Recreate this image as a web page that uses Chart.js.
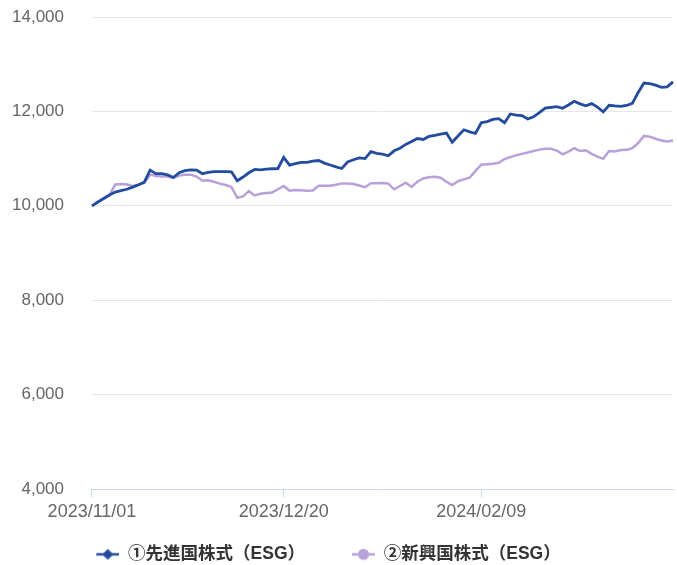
<!DOCTYPE html>
<html>
<head>
<meta charset="utf-8">
<script src="https://cdn.jsdelivr.net/npm/chart.js@4.4.1/dist/chart.umd.min.js"></script>
<style>
  body { margin: 0; background: #fff; }
  #wrap { width: 677px; height: 565px; }
</style>
</head>
<body>
<div id="wrap"><canvas id="fundChart" width="677" height="565"></canvas></div>
<script>
// trading days, 2023/11/01 - 2024/04/01
const dates = [
  '2023/11/01','2023/11/02','2023/11/06','2023/11/07','2023/11/08','2023/11/09','2023/11/10',
  '2023/11/13','2023/11/14','2023/11/15','2023/11/16','2023/11/17',
  '2023/11/20','2023/11/21','2023/11/22','2023/11/24',
  '2023/11/27','2023/11/28','2023/11/29','2023/11/30','2023/12/01',
  '2023/12/04','2023/12/05','2023/12/06','2023/12/07','2023/12/08',
  '2023/12/11','2023/12/12','2023/12/13','2023/12/14','2023/12/15',
  '2023/12/18','2023/12/19','2023/12/20','2023/12/21','2023/12/22',
  '2023/12/25','2023/12/26','2023/12/27','2023/12/28','2023/12/29',
  '2024/01/04','2024/01/05',
  '2024/01/08','2024/01/09','2024/01/10','2024/01/11','2024/01/12',
  '2024/01/15','2024/01/16','2024/01/17','2024/01/18','2024/01/19',
  '2024/01/22','2024/01/23','2024/01/24','2024/01/25','2024/01/26',
  '2024/01/29','2024/01/30','2024/01/31','2024/02/01','2024/02/02',
  '2024/02/05','2024/02/06','2024/02/07','2024/02/08','2024/02/09',
  '2024/02/13','2024/02/14','2024/02/15','2024/02/16',
  '2024/02/19','2024/02/20','2024/02/21','2024/02/22',
  '2024/02/26','2024/02/27','2024/02/28','2024/02/29','2024/03/01',
  '2024/03/04','2024/03/05','2024/03/06','2024/03/07','2024/03/08',
  '2024/03/11','2024/03/12','2024/03/13','2024/03/14','2024/03/15',
  '2024/03/18','2024/03/19','2024/03/21','2024/03/22',
  '2024/03/25','2024/03/26','2024/03/27','2024/03/28','2024/03/29',
  '2024/04/01'
];

const developedEsg = [
  10000, 10080, 10155, 10230, 10290, 10320, 10350, 10395, 10445, 10500,
  10755, 10680, 10680, 10655, 10600, 10700, 10745, 10760, 10755, 10680,
  10710, 10725, 10725, 10725, 10720, 10530, 10610, 10700, 10770, 10760,
  10775, 10785, 10790, 11025, 10860, 10895, 10920, 10920, 10945, 10960,
  10905, 10865, 10825, 10790, 10930, 10975, 11015, 11000, 11150, 11110,
  11095, 11060, 11165, 11220, 11300, 11360, 11425, 11405, 11470, 11490,
  11520, 11540, 11345, 11480, 11610, 11565, 11535, 11760, 11785, 11830,
  11845, 11760, 11945, 11920, 11910, 11840, 11885, 11975, 12070, 12085,
  12100, 12065, 12135, 12215, 12160, 12120, 12165, 12090, 11990, 12130,
  12115, 12105, 12125, 12170, 12400, 12600, 12590, 12555, 12510, 12520,
  12625
];

const emergingEsg = [
  10000, 10070, 10150, 10220, 10450, 10460, 10450, 10420, 10440, 10490,
  10660, 10630, 10620, 10620, 10590, 10640, 10660, 10660, 10620, 10530,
  10540, 10510, 10470, 10440, 10400, 10170, 10200, 10310, 10220, 10255,
  10270, 10280, 10350, 10420, 10320, 10335, 10330, 10320, 10325, 10425,
  10425, 10425, 10445, 10475, 10475, 10460, 10430, 10395, 10480, 10480,
  10485, 10470, 10350, 10420, 10490, 10400, 10510, 10580, 10605, 10615,
  10595, 10510, 10440, 10520, 10560, 10595, 10740, 10870, 10880, 10890,
  10910, 10990, 11030, 11070, 11100, 11130, 11160, 11190, 11210, 11210,
  11170, 11090, 11145, 11220, 11160, 11175, 11100, 11040, 10995, 11160,
  11150, 11180, 11185, 11220, 11330, 11480, 11465, 11420, 11385, 11365,
  11385
];

const seriesNames = ['①先進国株式（ESG）', '②新興国株式（ESG）'];
const shownDates = ['2023/11/01', '2023/12/20', '2024/02/09'];
const yTicks = [4000, 6000, 8000, 10000, 12000, 14000];

const BLUE = '#234c9e';
const LAVENDER = '#b7a1d8';
const FAMILY = "'Liberation Sans', Arial, sans-serif";

// legend marker: line with a symbol, drawn at the right end of a wide box
function legendMarker(color, shape) {
  const c = document.createElement('canvas');
  c.width = 64;
  c.height = 14;
  const g = c.getContext('2d');
  g.strokeStyle = color;
  g.fillStyle = color;
  g.lineWidth = 2.5;
  g.beginPath();
  g.moveTo(41, 7);
  g.lineTo(64, 7);
  g.stroke();
  g.beginPath();
  if (shape === 'diamond') {
    g.moveTo(52.5, 1.5); g.lineTo(58, 7); g.lineTo(52.5, 12.5); g.lineTo(47, 7);
    g.closePath();
  } else {
    g.arc(52.5, 7, 5.5, 0, Math.PI * 2);
  }
  g.fill();
  return c;
}

// move the legend box to where the reference has it
const legendNudge = {
  id: 'legendNudge',
  afterLayout(chart) {
    const lg = chart.legend;
    lg.left -= 34.5; lg.right -= 34.5;
    lg.top += 13; lg.bottom += 13;
  }
};

const ctx = document.getElementById('fundChart').getContext('2d');
new Chart(ctx, {
  type: 'line',
  data: {
    labels: dates,
    datasets: [{
      label: seriesNames[0],
      data: developedEsg,
      borderColor: BLUE,
      backgroundColor: BLUE,
      borderWidth: 2.8,
      pointRadius: 0,
      pointStyle: legendMarker(BLUE, 'diamond'),
      tension: 0
    }, {
      label: seriesNames[1],
      data: emergingEsg,
      borderColor: LAVENDER,
      backgroundColor: LAVENDER,
      borderWidth: 2.5,
      pointRadius: 0,
      pointStyle: legendMarker(LAVENDER, 'circle'),
      tension: 0
    }]
  },
  options: {
    responsive: false,
    animation: false,
    events: [],
    layout: { padding: { left: 12, right: 4, top: 17, bottom: 4.9 } },
    plugins: {
      legend: {
        position: 'bottom',
        labels: {
          usePointStyle: true,
          pointStyleWidth: 64,
          padding: 6,
          color: '#333333',
          font: { family: "'Liberation Sans', 'Noto Sans CJK JP', sans-serif", size: 17.5, weight: 'bold' }
        }
      },
      tooltip: { enabled: false }
    },
    scales: {
      x: {
        grid: { drawOnChartArea: false, tickLength: 8, color: '#ccd6eb' },
        border: { color: '#ccd6eb' },
        ticks: {
          autoSkip: false,
          maxRotation: 0,
          padding: 4,
          color: '#666666',
          font: { family: FAMILY, size: 18 },
          callback: (v, i) => shownDates.includes(dates[i]) ? dates[i] : null
        }
      },
      y: {
        min: 4000,
        max: 14000,
        afterBuildTicks: axis => { axis.ticks = yTicks.map(v => ({ value: v })); },
        grid: { color: '#e6e6e6', tickLength: 28, tickColor: 'rgba(0,0,0,0)' },
        border: { display: false },
        ticks: {
          padding: 0,
          color: '#666666',
          font: { family: FAMILY, size: 17 },
          callback: v => v.toLocaleString('en-US')
        }
      }
    }
  },
  plugins: [legendNudge]
});
</script>
</body>
</html>
